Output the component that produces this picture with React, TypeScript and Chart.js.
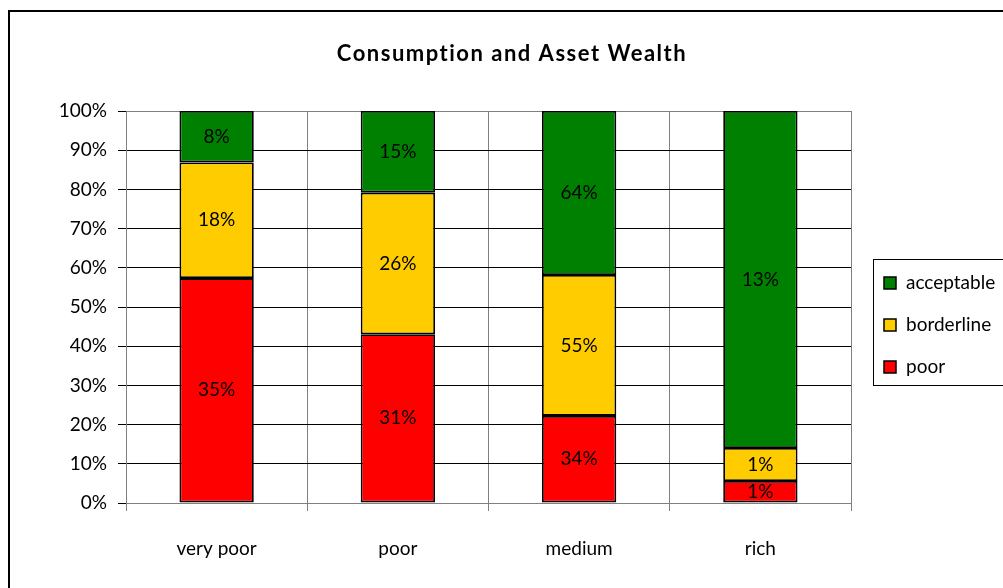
import React, { useEffect, useRef } from "react";
import { Chart, registerables } from "chart.js";

Chart.register(...registerables);

const TITLE = "Consumption and Asset Wealth";
const categories = ["very poor", "poor", "medium", "rich"];
const poorValues = [35, 31, 34, 0.85];
const borderlineValues = [18, 26, 55, 1.27];
const acceptableValues = [8, 15, 64, 13];
const yTicks = [0, 10, 20, 30, 40, 50, 60, 70, 80, 90, 100];

const FONT = "Lato, 'Open Sans', sans-serif";
const FS = 19;
const COLORS = { poor: "#FF0000", borderline: "#FFCC00", acceptable: "#008000" };

const W = 1040;
const H = 600;

function shares(series: number[], i: number): number {
  const tot = poorValues[i] + borderlineValues[i] + acceptableValues[i];
  return (series[i] / tot) * 100;
}

export default function App() {
  const ref = useRef<HTMLCanvasElement | null>(null);

  useEffect(() => {
    const canvas = ref.current;
    if (!canvas) return;

    const raw = [poorValues, borderlineValues, acceptableValues];

    const framePlugin = {
      id: "frame",
      beforeDraw(chart: any) {
        const ctx = chart.ctx;
        ctx.save();
        ctx.fillStyle = "#fff";
        ctx.fillRect(0, 0, chart.width, chart.height);
        ctx.strokeStyle = "#000";
        ctx.lineWidth = 2;
        ctx.strokeRect(1, 3, chart.width + 10, chart.height + 10);
        ctx.restore();
      },
      afterDraw(chart: any) {
        const ctx = chart.ctx;
        ctx.save();
        // title
        ctx.fillStyle = "#000";
        ctx.font = `bold 22px ${FONT}`;
        try {
          (ctx as any).letterSpacing = "1.5px";
        } catch (e) {}
        ctx.textAlign = "center";
        ctx.textBaseline = "middle";
        ctx.fillText(TITLE, 504, 46);
        try {
          (ctx as any).letterSpacing = "0px";
        } catch (e) {}
        // legend
        ctx.strokeStyle = "#000";
        ctx.lineWidth = 1;
        ctx.strokeRect(865.5, 251.5, 160, 126);
        const items = chart.data.datasets.slice().reverse();
        items.forEach((ds: any, k: number) => {
          const cy = 275 + k * 42;
          ctx.fillStyle = ds.backgroundColor;
          ctx.fillRect(876, cy - 6, 12, 12);
          ctx.lineWidth = 1.5;
          ctx.strokeStyle = "#000";
          ctx.strokeRect(876, cy - 6, 12, 12);
          ctx.fillStyle = "#000";
          ctx.font = `${FS}px ${FONT}`;
          ctx.textAlign = "left";
          ctx.textBaseline = "middle";
          ctx.fillText(ds.label, 898, cy);
        });
        ctx.restore();
      },
      afterDatasetsDraw(chart: any) {
        const ctx = chart.ctx;
        ctx.save();
        ctx.fillStyle = "#000";
        ctx.font = `${FS}px ${FONT}`;
        ctx.textAlign = "center";
        ctx.textBaseline = "middle";
        chart.data.datasets.forEach((ds: any, di: number) => {
          const meta = chart.getDatasetMeta(di);
          meta.data.forEach((el: any, i: number) => {
            const v = raw[di][i];
            const cy = (el.y + el.base) / 2;
            ctx.fillText(Math.round(v) + "%", el.x, cy);
          });
        });
        ctx.restore();
      },
    };

    const mk = (label: string, series: number[], color: string) => ({
      label,
      data: categories.map((_, i) => shares(series, i)),
      backgroundColor: color,
      borderColor: "#000",
      borderWidth: 1.8,
      borderSkipped: false,
      categoryPercentage: 1,
      barPercentage: 0.41,
    });

    const chart = new Chart(canvas, {
      type: "bar",
      data: {
        labels: categories,
        datasets: [
          mk("poor", poorValues, COLORS.poor),
          mk("borderline", borderlineValues, COLORS.borderline),
          mk("acceptable", acceptableValues, COLORS.acceptable),
        ],
      },
      options: {
        responsive: false,
        animation: false,
        devicePixelRatio: 1,
        layout: { padding: { left: 33, right: 197, top: 103, bottom: 45 } },
        plugins: {
          legend: { display: false },
          title: { display: false },
          tooltip: { enabled: false },
        },
        scales: {
          x: {
            stacked: true,
            offset: true,
            grid: {
              offset: true,
              color: "#808080",
              tickLength: 8,
              tickColor: "#808080",
            },
            border: { display: true, color: "#808080" },
            ticks: { color: "#000", font: { family: FONT, size: FS }, padding: 26 },
            afterFit: (s: any) => {
              s.height = 60;
            },
          },
          y: {
            stacked: true,
            min: 0,
            max: 100,
            afterBuildTicks: (s: any) => {
              s.ticks = yTicks.map((v) => ({ value: v }));
            },
            grid: {
              color: (c: any) =>
                c.tick && (c.tick.value === 100 || c.tick.value === 0) ? "#808080" : "#000",
              tickColor: "#000",
              tickLength: 8,
            },
            border: { display: true, color: "#808080" },
            ticks: {
              color: "#000",
              font: { family: FONT, size: FS },
              padding: 11,
              callback: (v: any) => v + "%",
            },
            afterFit: (s: any) => {
              s.width = 85;
            },
          },
        },
      },
      plugins: [framePlugin],
    } as any);

    return () => chart.destroy();
  }, []);

  return (
    <div
      style={{
        position: "fixed",
        left: 0,
        top: 0,
        width: "100vw",
        height: "100vh",
        overflow: "hidden",
        background: "#fff",
      }}
    >
      <canvas
        ref={ref}
        width={W}
        height={H}
        style={{ position: "absolute", left: 8, top: 8, width: W, height: H }}
      />
    </div>
  );
}
